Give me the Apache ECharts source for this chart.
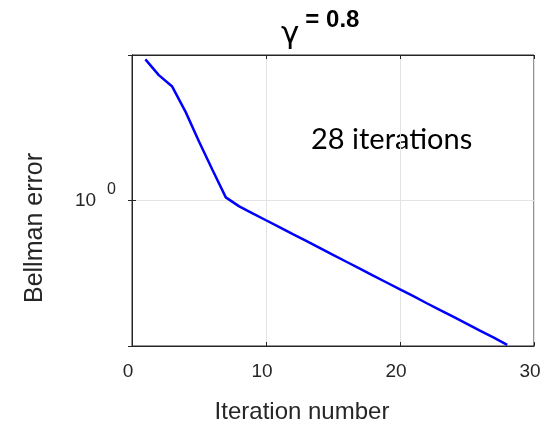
<!DOCTYPE html>
<html>
<head>
<meta charset="utf-8">
<script src="https://cdn.jsdelivr.net/npm/echarts@6/dist/echarts.min.js"></script>
<style>
  html, body { margin: 0; padding: 0; background: #fff; }
  #main { width: 547px; height: 429px; }
</style>
</head>
<body>
<div id="main"></div>
<script>
// iteration index
var iterations = [1, 2, 3, 4, 5, 6, 7, 8, 9, 10, 11, 12, 13, 14, 15, 16, 17, 18, 19, 20,
    21, 22, 23, 24, 25, 26, 27, 28];
// Bellman error
var bellmanError = [3.82, 3.29, 2.95, 2.32, 1.75, 1.34, 1.03, 0.946, 0.885, 0.829,
    0.777, 0.727, 0.681, 0.638, 0.597, 0.559, 0.524, 0.490, 0.459, 0.430,
    0.403, 0.377, 0.353, 0.331, 0.310, 0.290, 0.272, 0.254];
var xTicks = [0, 10, 20, 30];
// y range = 10^-0.6 .. 10^0.6, so 10^0 falls on a tick
var yRange = [0.251189, 3.981072];

var chart = echarts.init(document.getElementById('main'));

var seriesData = iterations.map(function (it, i) {
    return [it, bellmanError[i]];
});

var axisColor = '#262626';
var gridColor = '#e3e3e3';
var font = 'Liberation Sans';

var option = {
    animation: false,
    backgroundColor: '#fff',
    title: {
        left: 276,
        top: 0,
        text: '{g|γ}{s|= 0.8}',
        textStyle: {
            rich: {
                g: { fontFamily: 'DejaVu Sans', fontSize: 31, fontWeight: 'normal', color: '#000', padding: [14, 6, 0, 0] },
                s: { fontFamily: font, fontSize: 24, fontWeight: 'bold', color: '#000', padding: [0, 0, 14, 0] }
            }
        }
    },
    grid: {
        left: 132,
        right: 13,
        top: 55,
        bottom: 83,
        show: true,
        borderColor: axisColor,
        borderWidth: 1
    },
    xAxis: [{
        type: 'value',
        min: xTicks[0],
        max: xTicks[xTicks.length - 1],
        interval: 10,
        axisLine: { show: true, lineStyle: { color: axisColor } },
        axisTick: { show: true, inside: true, length: 4, lineStyle: { color: axisColor } },
        axisLabel: { margin: 16, padding: [0, 8, 0, 0], fontFamily: font, fontSize: 19, color: '#262626' },
        splitLine: { show: true, lineStyle: { color: gridColor } }
    }, {
        type: 'value',
        position: 'top',
        min: xTicks[0],
        max: xTicks[xTicks.length - 1],
        interval: 10,
        axisLine: { show: true, lineStyle: { color: axisColor } },
        axisTick: { show: true, inside: true, length: 4, lineStyle: { color: axisColor } },
        axisLabel: { show: false },
        splitLine: { show: false }
    }],
    yAxis: [{
        type: 'log',
        logBase: 10,
        min: yRange[0],
        max: yRange[1],
        interval: 0.6,
        axisLine: { show: true, lineStyle: { color: axisColor } },
        axisTick: { show: true, inside: true, length: 4, lineStyle: { color: axisColor } },
        axisLabel: {
            margin: 16,
            showMinLabel: false,
            showMaxLabel: false,
            formatter: function (v) {
                if (Math.abs(v - 1) < 1e-3) return '{b|10}{p|0}';
                return '';
            },
            rich: {
                b: { fontFamily: font, fontSize: 19, color: '#262626' },
                p: { fontFamily: font, fontSize: 16, color: '#262626', padding: [0, 0, 22, 11] }
            }
        },
        splitLine: { show: true, lineStyle: { color: gridColor } }
    }, {
        type: 'log',
        logBase: 10,
        position: 'right',
        min: yRange[0],
        max: yRange[1],
        interval: 0.6,
        axisLine: { show: true, lineStyle: { color: axisColor } },
        axisTick: { show: true, inside: true, length: 4, lineStyle: { color: axisColor } },
        axisLabel: { show: false },
        splitLine: { show: false }
    }],
    graphic: [{
        type: 'text',
        left: 311,
        top: 125,
        style: { text: '28 iterations', fontFamily: 'Lato', fontSize: 29, fill: '#000' }
    }, {
        type: 'text',
        x: 302,
        y: 412,
        style: { text: 'Iteration number', fontFamily: font, fontSize: 24, fill: '#262626',
            align: 'center', verticalAlign: 'middle' }
    }, {
        type: 'text',
        x: 35,
        y: 228,
        rotation: Math.PI / 2,
        style: { text: 'Bellman error', fontFamily: font, fontSize: 25, fill: '#262626',
            align: 'center', verticalAlign: 'middle' }
    }],
    series: [{
        type: 'line',
        data: seriesData,
        showSymbol: false,
        lineStyle: { color: '#0000ff', width: 2.5 },
        itemStyle: { color: '#0000ff' }
    }]
};

chart.setOption(option);
</script>
</body>
</html>
